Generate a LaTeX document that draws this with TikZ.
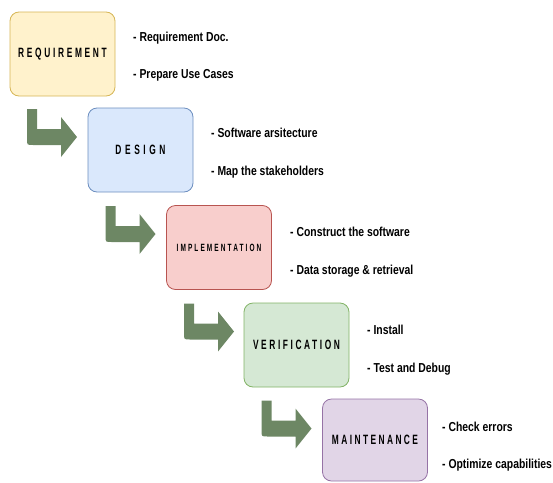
\documentclass[tikz,border=0pt]{standalone}
\usepackage{fontspec}
\usepackage{graphicx}
\setmainfont{Liberation Sans}
\newfontfamily\lblfont{Liberation Sans}
\definecolor{yfill}{HTML}{FFF2CC}\definecolor{ydraw}{HTML}{D6B656}
\definecolor{bfill}{HTML}{DAE8FC}\definecolor{bdraw}{HTML}{6C8EBF}
\definecolor{rfill}{HTML}{F8CECC}\definecolor{rdraw}{HTML}{B85450}
\definecolor{gfill}{HTML}{D5E8D4}\definecolor{gdraw}{HTML}{82B366}
\definecolor{pfill}{HTML}{E1D5E7}\definecolor{pdraw}{HTML}{9673A6}
\definecolor{arrowgreen}{HTML}{6D8764}
\newcommand\sq[1]{\scalebox{0.8}[1]{#1}}
\newcommand\lbl[3]{\scalebox{0.62}[1]{\lblfont\addfontfeature{LetterSpace=#2}\bfseries\fontsize{#1}{#1}\selectfont #3}}
\tikzset{
  phase/.style={draw, rounded corners=9pt, minimum width=105pt, minimum height=84pt, line width=0.8pt, inner sep=0pt},
  note/.style={anchor=west, inner sep=0pt, font=\bfseries\fontsize{13}{15}\selectfont},
  bendarrow/.style={fill=arrowgreen, draw=none}
}
\begin{document}
\begin{tikzpicture}[x=1pt,y=-1pt]
\useasboundingbox (0,0) rectangle (553,482);
% phase boxes
\node[phase, fill=yfill, draw=ydraw] (req) at (62.5,54) {\lbl{13.5}{32}{REQUIREMENT}};
\node[phase, fill=bfill, draw=bdraw] (des) at (140.5,150) {\lbl{13.5}{43}{DESIGN}};
\node[phase, fill=rfill, draw=rdraw] (imp) at (219,247.5) {\lbl{10.5}{32}{IMPLEMENTATION}};
\node[phase, fill=gfill, draw=gdraw] (ver) at (296.5,345) {\lbl{13.5}{31}{VERIFICATION}};
\node[phase, fill=pfill, draw=pdraw, minimum height=82pt] (mai) at (375,440) {\lbl{13.5}{29}{MAINTENANCE}};
% notes
\node[note] (r1) at (133,38.5) {\sq{- Requirement Doc.}};
\node[note] (r2) at (133,75) {\sq{- Prepare Use Cases}};
\node[note] (d1) at (211,133) {\sq{- Software arsitecture}};
\node[note] (d2) at (211,172) {\sq{- Map the stakeholders}};
\node[note] (i1) at (290,232) {\sq{- Construct the software}};
\node[note] (i2) at (290,271) {\sq{- Data storage \& retrieval}};
\node[note] (v1) at (367,330) {\sq{- Install}};
\node[note] (v2) at (367,369) {\sq{- Test and Debug}};
\node[note] (m1) at (442,427) {\sq{- Check errors}};
\node[note] (m2) at (442,465) {\sq{- Optimize capabilities}};
% bend arrows
\foreach \dx/\dy in {0/0, 78.5/97, 157/194.5, 234.5/291.5}{
  \begin{scope}[shift={(\dx,\dy)}]
    \fill[bendarrow] (27,109) -- (37,109) -- (37,129) -- (61,129) -- (61,117)
      -- (77,137) -- (61,157) -- (61,145) -- (33,145)
      .. controls (27,145) .. (27,139) -- cycle;
  \end{scope}
}
\end{tikzpicture}
\end{document}
